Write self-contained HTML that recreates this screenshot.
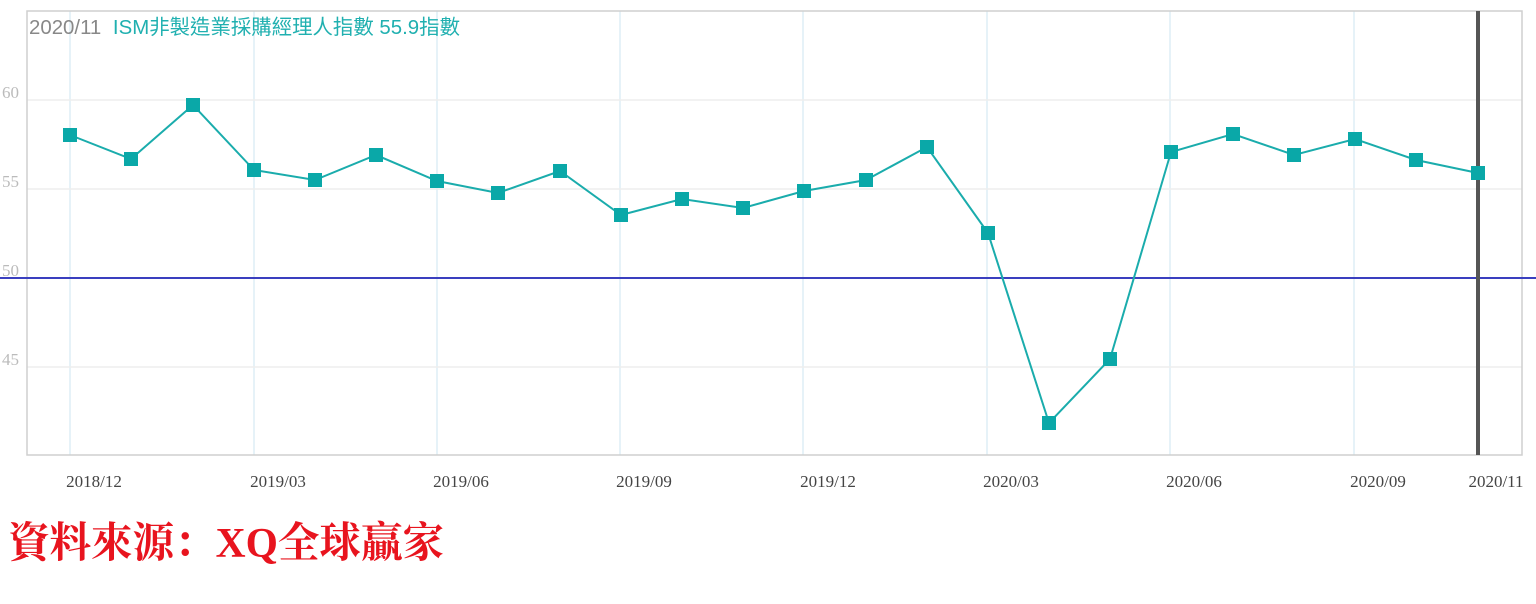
<!DOCTYPE html>
<html><head><meta charset="utf-8"><style>
body{margin:0;width:1536px;height:599px;background:#fff;overflow:hidden}
</style></head><body>
<svg width="1536" height="599" xmlns="http://www.w3.org/2000/svg">
<g stroke="#deedf5" stroke-width="1.5">
<line x1="70" y1="11" x2="70" y2="455"/><line x1="254" y1="11" x2="254" y2="455"/>
<line x1="437" y1="11" x2="437" y2="455"/><line x1="620" y1="11" x2="620" y2="455"/>
<line x1="803" y1="11" x2="803" y2="455"/><line x1="987" y1="11" x2="987" y2="455"/>
<line x1="1170" y1="11" x2="1170" y2="455"/><line x1="1354" y1="11" x2="1354" y2="455"/>
</g>
<g stroke="#eeeeee" stroke-width="1.5">
<line x1="27" y1="100" x2="1522" y2="100"/><line x1="27" y1="189" x2="1522" y2="189"/><line x1="27" y1="367" x2="1522" y2="367"/>
</g>
<rect x="27" y="11" width="1495" height="444" fill="none" stroke="#cfcfcf" stroke-width="1.5"/>
<line x1="0" y1="278" x2="1536" y2="278" stroke="#3a3fbf" stroke-width="2"/>
<line x1="1478" y1="11" x2="1478" y2="455" stroke="#555" stroke-width="4"/>
<g font-family="Liberation Serif, serif" font-size="17" fill="#bbb">
<text x="2" y="98">60</text><text x="2" y="187">55</text><text x="2" y="276">50</text><text x="2" y="365">45</text>
</g>
<g font-family="Liberation Serif, serif" font-size="17" fill="#444" text-anchor="middle">
<text x="94" y="487">2018/12</text><text x="278" y="487">2019/03</text><text x="461" y="487">2019/06</text>
<text x="644" y="487">2019/09</text><text x="828" y="487">2019/12</text><text x="1011" y="487">2020/03</text>
<text x="1194" y="487">2020/06</text><text x="1378" y="487">2020/09</text><text x="1496" y="487">2020/11</text>
</g>
<text x="29" y="34" font-family="Liberation Sans, 'Noto Sans CJK TC', sans-serif" font-size="20.5" fill="#888" textLength="431" lengthAdjust="spacingAndGlyphs">2020/11 <tspan fill="#20b0b0" dx="6">ISM非製造業採購經理人指數 55.9指數</tspan></text>
<polyline fill="none" stroke="#1aacac" stroke-width="2" points="70,135 131,159 193,105 254,170 315,180 376,155 437,181 498,193 560,171 621,215 682,199 743,208 804,191 866,180 927,147 988,233 1049,423 1110,359 1171,152 1233,134 1294,155 1355,139 1416,160 1478,173"/>
<g fill="#0aa8a8">
<rect x="63" y="128" width="14" height="14"/><rect x="124" y="152" width="14" height="14"/><rect x="186" y="98" width="14" height="14"/><rect x="247" y="163" width="14" height="14"/><rect x="308" y="173" width="14" height="14"/><rect x="369" y="148" width="14" height="14"/><rect x="430" y="174" width="14" height="14"/><rect x="491" y="186" width="14" height="14"/><rect x="553" y="164" width="14" height="14"/><rect x="614" y="208" width="14" height="14"/><rect x="675" y="192" width="14" height="14"/><rect x="736" y="201" width="14" height="14"/><rect x="797" y="184" width="14" height="14"/><rect x="859" y="173" width="14" height="14"/><rect x="920" y="140" width="14" height="14"/><rect x="981" y="226" width="14" height="14"/><rect x="1042" y="416" width="14" height="14"/><rect x="1103" y="352" width="14" height="14"/><rect x="1164" y="145" width="14" height="14"/><rect x="1226" y="127" width="14" height="14"/><rect x="1287" y="148" width="14" height="14"/><rect x="1348" y="132" width="14" height="14"/><rect x="1409" y="153" width="14" height="14"/><rect x="1471" y="166" width="14" height="14"/>
</g>
<text x="8" y="557" font-family="Liberation Serif, 'Noto Serif CJK SC', serif" font-size="42" font-weight="bold" fill="#e8141e" textLength="436" lengthAdjust="spacingAndGlyphs">資料來源：XQ全球贏家</text>
</svg>
</body></html>
